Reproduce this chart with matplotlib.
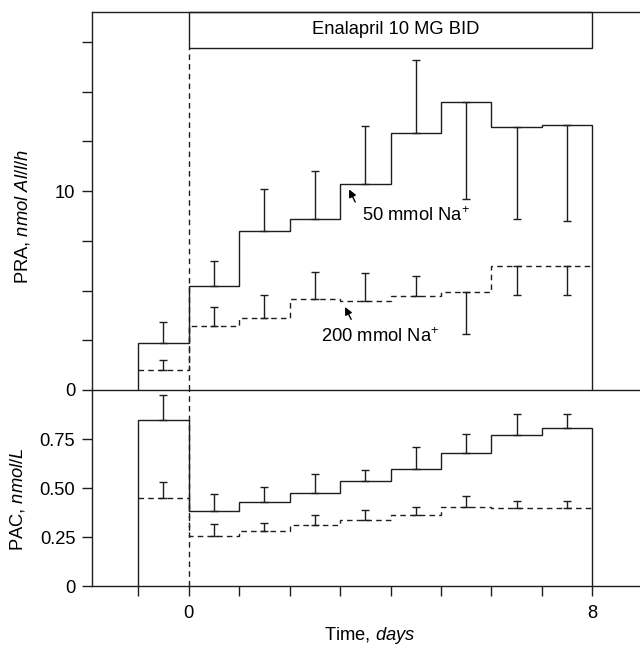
import numpy as np
import matplotlib
matplotlib.use('Agg')
import matplotlib.pyplot as plt
from matplotlib.patches import Rectangle

plt.rcParams['font.family'] = ['Liberation Sans', 'DejaVu Sans']
plt.rcParams['mathtext.fontset'] = 'custom'
plt.rcParams['mathtext.rm'] = 'Liberation Sans'
plt.rcParams['mathtext.it'] = 'Liberation Sans:italic'

# day edges of the measurement intervals (-1..8)
edges = np.arange(-1, 9)

# PRA, nmol Al/l/h
pra_50 = [2.38, 5.25, 8.0, 8.58, 10.37, 12.92, 14.47, 13.2, 13.33]
pra_50_bar = [3.42, 6.5, 10.08, 11.03, 13.28, 16.6, 9.58, 8.58, 8.5]
pra_200 = [1.03, 3.22, 3.62, 4.58, 4.45, 4.7, 4.95, 6.25, 6.25]
pra_200_bar = [1.53, 4.17, 4.75, 5.92, 5.87, 5.75, 2.83, 4.75, 4.78]

# PAC, nmol/L
pac_50 = [0.847, 0.384, 0.427, 0.476, 0.536, 0.595, 0.679, 0.772, 0.806]
pac_50_bar = [0.974, 0.469, 0.507, 0.571, 0.592, 0.707, 0.774, 0.876, 0.878]
pac_200 = [0.451, 0.257, 0.282, 0.313, 0.338, 0.364, 0.403, 0.396, 0.396]
pac_200_bar = [0.529, 0.316, 0.32, 0.362, 0.388, 0.405, 0.461, 0.434, 0.434]

pra_ticks = [0, 2.5, 5, 7.5, 10, 12.5, 15, 17.5]
pra_ticklabels = ['0', '', '', '', '10', '', '', '']
pac_ticks = [0, 0.25, 0.5, 0.75]
pac_ticklabels = ['0', '0.25', '0.50', '0.75']
x_ticks = list(range(-1, 9))
x_ticklabels = ['' if t not in (0, 8) else str(t) for t in x_ticks]

C = '#1e1e1e'
LW = 1.0
DASH = (0, (4, 3))
FS = 13.2

fig = plt.figure(figsize=(6.4, 6.53), dpi=100)
ax1 = fig.add_axes([0.14375, 0.40276, 0.85625, 0.57887])
ax2 = fig.add_axes([0.14375, 0.1026, 0.85625, 0.30015], sharex=ax1)
ax1.patch.set_visible(False)
ax2.patch.set_visible(False)

mids = (edges[:-1] + edges[1:]) / 2


def err(vals, bars):
    v = np.array(vals); b = np.array(bars)
    return np.vstack([np.clip(v - b, 0, None), np.clip(b - v, 0, None)])


for ax, s50, b50, s200, b200 in [(ax1, pra_50, pra_50_bar, pra_200, pra_200_bar),
                                 (ax2, pac_50, pac_50_bar, pac_200, pac_200_bar)]:
    ax.stairs(s50, edges, baseline=0, color=C, lw=LW)
    ax.stairs(s200, edges, baseline=None, color=C, lw=LW, linestyle=DASH)
    ax.errorbar(mids, s50, yerr=err(s50, b50), fmt='none', ecolor=C,
                elinewidth=LW, capsize=3.2, capthick=LW)
    ax.errorbar(mids, s200, yerr=err(s200, b200), fmt='none', ecolor=C,
                elinewidth=LW, capsize=3.2, capthick=LW)
    for sp in ax.spines.values():
        sp.set_color(C); sp.set_linewidth(LW)
    ax.spines['right'].set_visible(False)
    ax.tick_params(axis='y', direction='out', length=7, width=LW, color=C,
                   labelsize=FS, pad=5)

ax1.set_xlim(-1.917, 8.945)
ax1.set_ylim(0, 19)
ax2.set_ylim(0, 1.0)
ax2.spines['top'].set_visible(False)

# enalapril box and start-of-treatment line
box_bottom = 17.17
ax1.add_patch(Rectangle((0, box_bottom), 8, 19 - box_bottom, fill=False,
                        edgecolor=C, lw=LW, clip_on=False))
ax1.text(4.1, 18.1, 'Enalapril 10 MG BID', ha='center', va='center', fontsize=FS)
ax1.plot([0, 0], [0, box_bottom], color=C, lw=LW, linestyle=DASH)
ax2.plot([0, 0], [0, 1.0], color=C, lw=LW, linestyle=DASH)

ax1.set_yticks(pra_ticks)
ax1.set_yticklabels(pra_ticklabels)
ax1.tick_params(axis='x', bottom=False, labelbottom=False)
ax2.set_yticks(pac_ticks)
ax2.set_yticklabels(pac_ticklabels)
ax2.set_xticks(x_ticks)
ax2.set_xticklabels(x_ticklabels)
ax2.tick_params(axis='x', direction='out', length=7, width=LW, color=C,
                labelsize=FS, pad=7)

ax1.set_ylabel('PRA, $\\mathit{nmol\\ Al/l/h}$', fontsize=FS)
ax1.yaxis.set_label_coords(-0.11, 0.46)
ax2.set_ylabel('PAC, $\\mathit{nmol/L}$', fontsize=FS)
ax2.yaxis.set_label_coords(-0.119, 0.444)
fig.text(370 / 640, 1 - 635 / 653, 'Time, $\\mathit{days}$', ha='center',
         va='center', fontsize=FS)

# labels with arrows
arw = dict(arrowstyle='-|>', color='black', lw=1.0, mutation_scale=11,
           shrinkA=0, shrinkB=0)
ax1.annotate('', xy=(3.18, 10.08), xytext=(3.3, 9.45), arrowprops=arw)
ax1.text(3.43, 8.75, '50 mmol Na$^{+}$', ha='left', va='center', fontsize=FS)
ax1.annotate('', xy=(3.1, 4.17), xytext=(3.22, 3.55), arrowprops=arw)
ax1.text(2.62, 2.67, '200 mmol Na$^{+}$', ha='left', va='center', fontsize=FS)

plt.savefig('out.png', dpi=100)
